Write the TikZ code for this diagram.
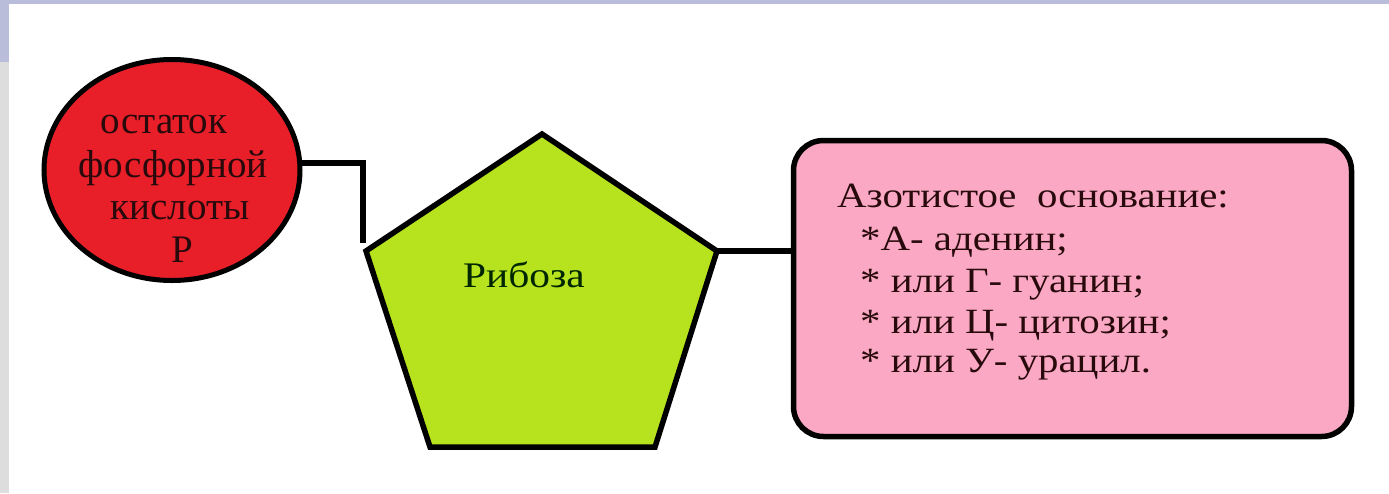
\documentclass[tikz,border=0pt]{standalone}
\usepackage{fontspec}
\setmainfont{Liberation Serif}
\newfontfamily\wideserif[FakeStretch=1.15]{Liberation Serif}
\usetikzlibrary{shapes.geometric}
\definecolor{lav}{RGB}{185,189,218}
\definecolor{sidegray}{RGB}{221,221,221}
\definecolor{redfill}{RGB}{232,30,40}
\definecolor{limefill}{RGB}{182,227,30}
\definecolor{pinkfill}{RGB}{250,168,196}
\definecolor{ink}{RGB}{40,10,12}
\tikzset{
  outline/.style={draw=black, line width=5.5pt},
  wire/.style={draw=black, line width=5.5pt},
  eltext/.style={anchor=base, inner sep=0pt, text=ink, font=\fontsize{39}{43}\selectfont},
  boxtext/.style={anchor=base west, inner sep=0pt, text=ink, font=\wideserif\fontsize{35.5}{43}\selectfont},
}
\begin{document}
\begin{tikzpicture}[x=1pt,y=-1pt]
\useasboundingbox (0,0) rectangle (1389,493);
\fill[white] (0,0) rectangle (1389,493);
\fill[lav] (0,0) rectangle (1389,4);
\fill[lav] (0,0) rectangle (9,62);
\fill[sidegray] (0,62) rectangle (9,493);

% phosphate ellipse
\node[ellipse, outline, line width=5pt, fill=redfill, minimum width=256pt, minimum height=221pt, inner sep=0pt] (ell) at (172,170) {};
\node[eltext] (t1) at (164,133) {остаток};
\node[eltext] (t2) at (173,177) {фосфорной};
\node[eltext] (t3) at (180,219) {кислоты};
\node[eltext] (t4) at (182,262) {Р};

% ribose pentagon
\coordinate (pt) at (542,134);
\coordinate (pr) at (717,251);
\coordinate (pbr) at (655,447);
\coordinate (pbl) at (430,447);
\coordinate (pl) at (366,251);
\filldraw[outline, fill=limefill] (pt) -- (pr) -- (pbr) -- (pbl) -- (pl) -- cycle;
\node[anchor=base west, inner sep=0pt, text=black!85!green, font=\wideserif\fontsize{36}{43}\selectfont] (rib) at (463,287) {Рибоза};

% base box
\node[draw=black, line width=5.5pt, fill=pinkfill, rounded corners=30pt, minimum width=558pt, minimum height=296pt, inner sep=0pt] (box) at (1072.5,288.5) {};
\node[boxtext] (b1) at (837,207) {Азотистое\ \ основание:};
\node[boxtext] (b2) at (860,250) {*А- аденин;};
\node[boxtext] (b3) at (860,292) {* или Г- гуанин;};
\node[boxtext] (b4) at (860,333) {* или Ц- цитозин;};
\node[boxtext] (b5) at (860,372) {* или У- урацил.};

% connectors
\coordinate (pin) at (363,243);
\draw[wire] (ell.3) -| (pin);
\draw[wire] (pr) -- (box.west |- pr);
\end{tikzpicture}
\end{document}
